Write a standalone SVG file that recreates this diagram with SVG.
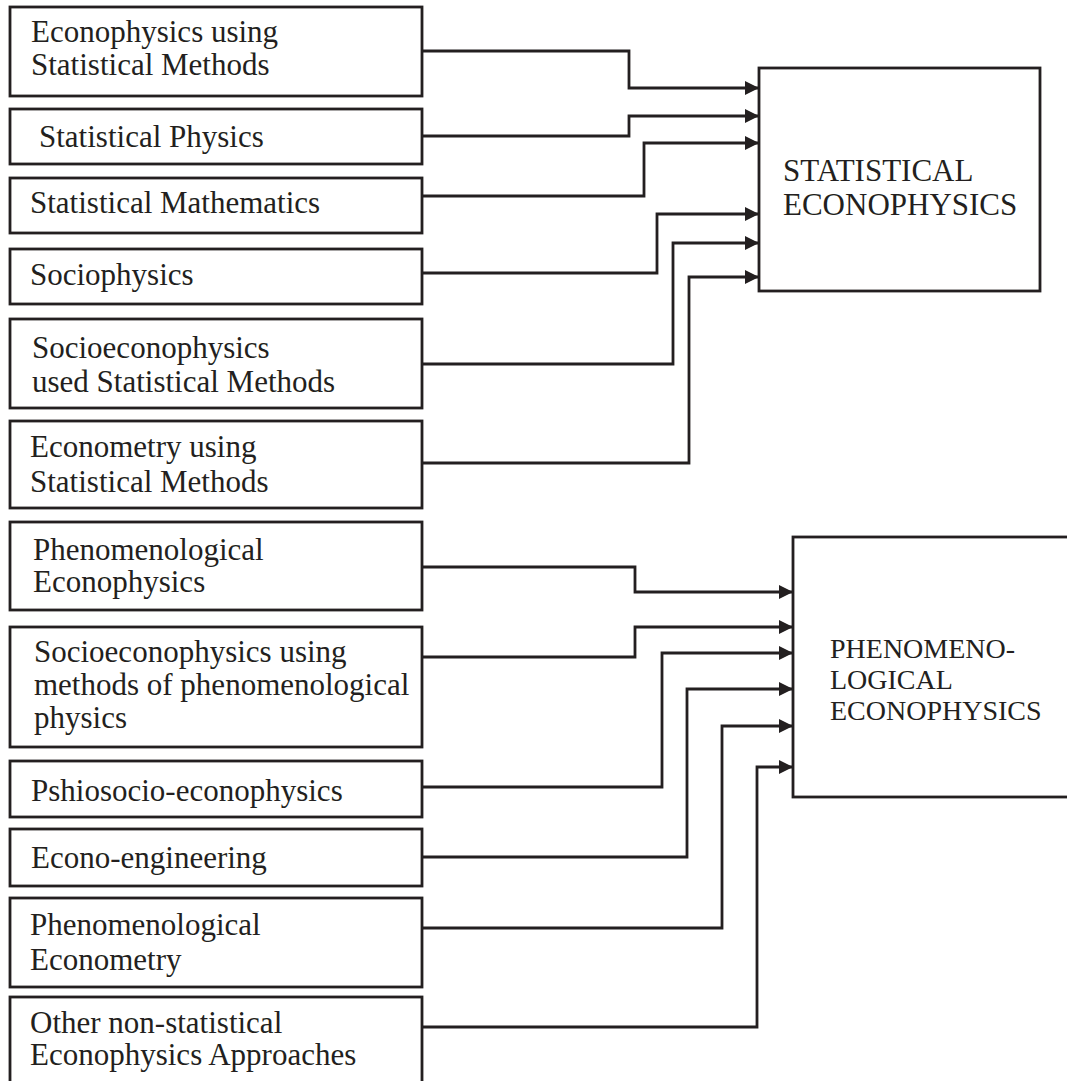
<svg xmlns="http://www.w3.org/2000/svg" width="1067" height="1081" viewBox="0 0 1067 1081">
<style>
.box{fill:#fff;stroke:#231f20;stroke-width:2.8}
.t{font-family:"Liberation Serif","Times New Roman",serif;font-size:31px;fill:#231f20}
.s{font-size:28px}
.c{fill:none;stroke:#231f20;stroke-width:2.8;marker-end:url(#ah)}
</style>
<defs>
<marker id="ah" markerUnits="userSpaceOnUse" markerWidth="15" markerHeight="15" refX="13" refY="7" orient="auto">
<path d="M0,0 L14,7 L0,14 z" fill="#231f20"/>
</marker>
</defs>
<rect width="1067" height="1081" fill="#fff"/>
<g id="n1"><rect class="box" x="10" y="7" width="412" height="89"/><text class="t" x="31" y="42">Econophysics using</text><text class="t" x="31" y="75">Statistical Methods</text></g>
<g id="n2"><rect class="box" x="10" y="109" width="412" height="55"/><text class="t" x="39" y="147">Statistical Physics</text></g>
<g id="n3"><rect class="box" x="10" y="178" width="412" height="55"/><text class="t" x="30" y="213">Statistical Mathematics</text></g>
<g id="n4"><rect class="box" x="10" y="249" width="412" height="55"/><text class="t" x="30" y="285">Sociophysics</text></g>
<g id="n5"><rect class="box" x="10" y="319" width="412" height="89"/><text class="t" x="32" y="358">Socioeconophysics</text><text class="t" x="32" y="392">used Statistical Methods</text></g>
<g id="n6"><rect class="box" x="10" y="421" width="412" height="87"/><text class="t" x="30" y="457">Econometry using</text><text class="t" x="30" y="492">Statistical Methods</text></g>
<g id="n7"><rect class="box" x="10" y="522" width="412" height="88"/><text class="t" x="33" y="560">Phenomenological</text><text class="t" x="33" y="592">Econophysics</text></g>
<g id="n8"><rect class="box" x="10" y="627" width="412" height="120"/><text class="t" x="34" y="662">Socioeconophysics using</text><text class="t" x="34" y="695">methods of phenomenological</text><text class="t" x="34" y="728">physics</text></g>
<g id="n9"><rect class="box" x="10" y="761" width="412" height="56"/><text class="t" x="31" y="801">Pshiosocio-econophysics</text></g>
<g id="n10"><rect class="box" x="10" y="829" width="412" height="57"/><text class="t" x="31" y="868">Econo-engineering</text></g>
<g id="n11"><rect class="box" x="10" y="898" width="412" height="89"/><text class="t" x="30" y="935">Phenomenological</text><text class="t" x="30" y="970">Econometry</text></g>
<g id="n12"><rect class="box" x="10" y="997" width="412" height="100"/><text class="t" x="30" y="1033">Other non-statistical</text><text class="t" x="30" y="1065">Econophysics Approaches</text></g>
<g id="stat"><rect class="box" x="759" y="68" width="281" height="223"/><text class="t" x="783" y="181">STATISTICAL</text><text class="t" x="783" y="215">ECONOPHYSICS</text></g>
<g id="phen"><rect class="box" x="793" y="537" width="290" height="260"/><text class="t s" x="830" y="658">PHENOMENO-</text><text class="t s" x="830" y="689">LOGICAL</text><text class="t s" x="830" y="720">ECONOPHYSICS</text></g>
<g id="connectors">
<path class="c" d="M422,51 H629 V88 H758"/>
<path class="c" d="M422,136 H629 V116 H758"/>
<path class="c" d="M422,196 H644 V143 H758"/>
<path class="c" d="M422,273 H657 V214 H758"/>
<path class="c" d="M422,364 H673 V243 H758"/>
<path class="c" d="M422,463 H689 V277 H758"/>
<path class="c" d="M422,567 H635 V592 H792"/>
<path class="c" d="M422,657 H635 V627 H792"/>
<path class="c" d="M422,787 H662 V653 H792"/>
<path class="c" d="M422,857 H687 V689 H792"/>
<path class="c" d="M422,928 H722 V726 H792"/>
<path class="c" d="M422,1027 H757 V767 H792"/>
</g>
</svg>
